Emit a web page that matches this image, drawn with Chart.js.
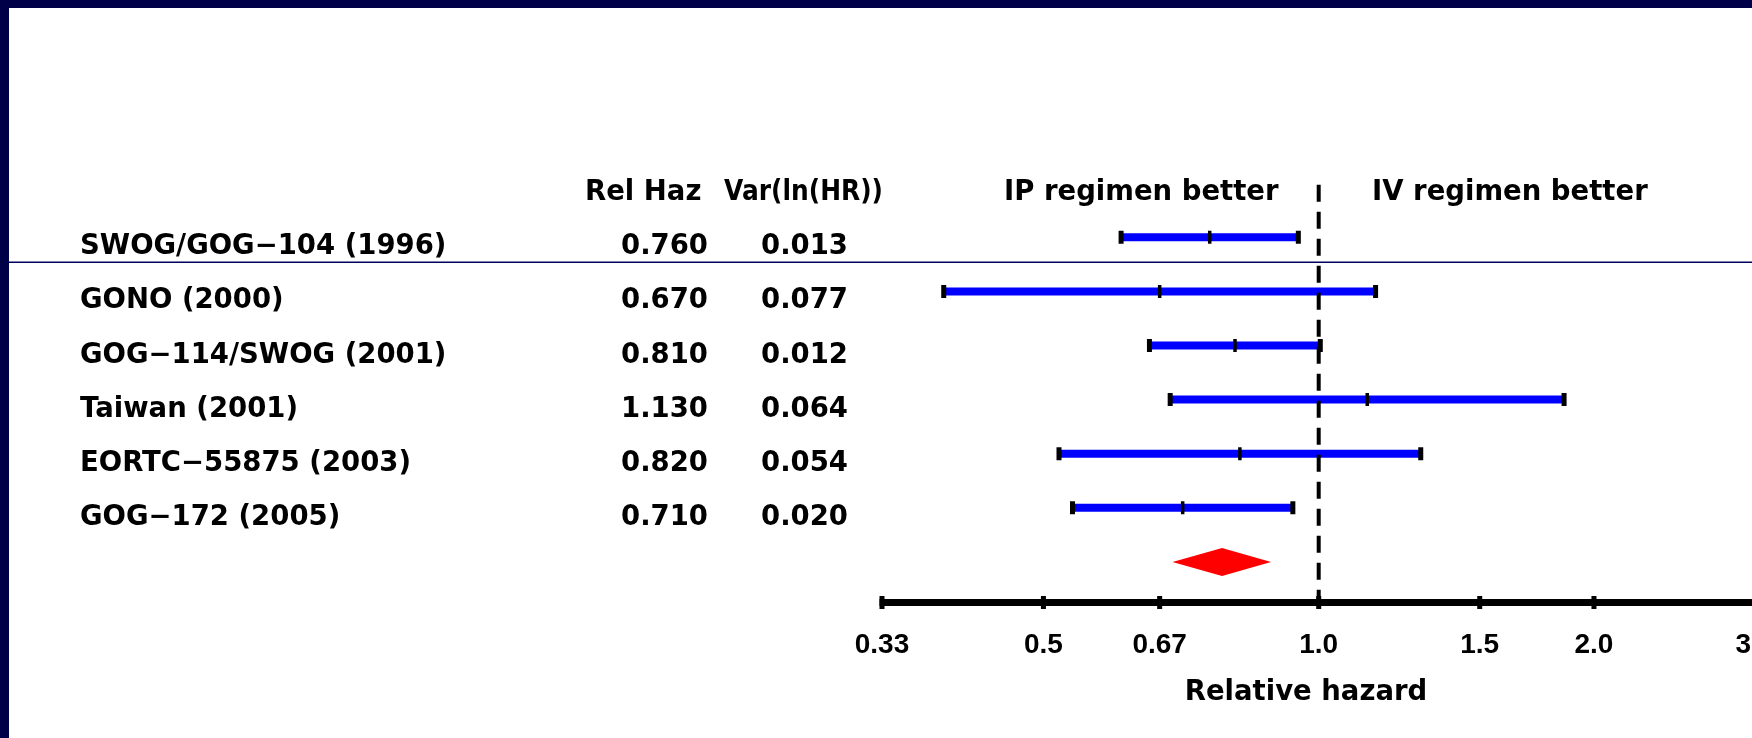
<!DOCTYPE html>
<html><head><meta charset="utf-8">
<script src="https://cdn.jsdelivr.net/npm/chart.js@4.4.1/dist/chart.umd.min.js"></script>
<style>
html,body{margin:0;padding:0;background:#fff;overflow:hidden;width:1752px;height:738px;}
#wrap{position:absolute;left:0;top:0;width:1800px;height:738px;}
canvas{display:block;}
</style></head><body>
<div id="wrap"><canvas id="c" width="1800" height="738"></canvas></div>
<script>
// ---------- data ----------
const studies = ['SWOG/GOG\u2212104 (1996)','GONO (2000)','GOG\u2212114/SWOG (2001)','Taiwan (2001)','EORTC\u221255875 (2003)','GOG\u2212172 (2005)'];
const relHaz  = [0.760, 0.670, 0.810, 1.130, 0.820, 0.710];
const varLnHR = [0.013, 0.077, 0.012, 0.064, 0.054, 0.020];
const ciLower = [0.608, 0.389, 0.653, 0.688, 0.520, 0.538];
const ciUpper = [0.950, 1.154, 1.004, 1.855, 1.293, 0.937];
const pooledHR    = [0.784];
const pooledLower = [0.692];
const pooledUpper = [0.887];
const tickValues = [0.333, 0.5, 0.67, 1.0, 1.5, 2.0, 3.0];
const tickLabels = ['0.33', '0.5', '0.67', '1.0', '1.5', '2.0', '3.0'];
const colHeaders = ['Rel Haz', 'Var(ln(HR))'];
const sideHeaders = ['IP regimen better', 'IV regimen better'];
const axisTitle = 'Relative hazard';

// ---------- layout constants (styles / positions, not data) ----------
const Y_MAX = 7.75;           // y-scale bottom = axis line
const POOLED_ROW = 7;
const AREA = { left: 882, right: 1755, top: 183.2, bottom: 602.5 };
const TXT_FONT = 'bold 27.5px "DejaVu Sans"';
const TICK_FONT = {family: 'Liberation Sans', size: 28, weight: 'bold'};
const BLUE = '#0000ff';

const rowOf = i => i + 1;

const ciLineSets = studies.map((s, i) => ({
  type: 'scatter', showLine: true, order: 2,
  data: [{x: ciLower[i], y: rowOf(i)}, {x: ciUpper[i], y: rowOf(i)}],
  borderColor: BLUE, borderWidth: 8, pointRadius: 0, borderCapStyle: 'butt'
}));

const capSet = {
  type: 'scatter', order: 0,
  data: studies.flatMap((s, i) => [{x: ciLower[i], y: rowOf(i)}, {x: ciUpper[i], y: rowOf(i)}]),
  pointStyle: 'line', rotation: 90, radius: 6.5, borderWidth: 5,
  borderColor: '#000', backgroundColor: '#000'
};
const midSet = {
  type: 'scatter', order: 0,
  data: studies.map((s, i) => ({x: relHaz[i], y: rowOf(i)})),
  pointStyle: 'line', rotation: 90, radius: 6.5, borderWidth: 3.5,
  borderColor: '#000', backgroundColor: '#000'
};
const refLine = {
  type: 'scatter', showLine: true, order: 1,
  data: [{x: 1.0, y: 0.03}, {x: 1.0, y: Y_MAX}],
  borderColor: '#000', borderWidth: 4, borderDash: [17, 10], pointRadius: 0, borderCapStyle: 'butt'
};

function fitText(ctx, txt, x, y, w) {
  const m = ctx.measureText(txt).width;
  ctx.save(); ctx.translate(x, y); ctx.scale(Math.min(1, w / m), 1); ctx.fillText(txt, 0, 0); ctx.restore();
}

const decor = {
  id: 'decor',
  beforeDraw(chart) {
    const ctx = chart.ctx, xs = chart.scales.x, ys = chart.scales.y;
    ctx.save();
    ctx.fillStyle = '#fff'; ctx.fillRect(0, 0, chart.width, chart.height);
    ctx.fillStyle = '#000048';
    ctx.fillRect(0, 0, chart.width, 8);
    ctx.fillRect(0, 0, 9, chart.height);
    // separator line
    const sy = ys.getPixelForValue(1.462);
    ctx.strokeStyle = '#00005a'; ctx.lineWidth = 1.5;
    ctx.beginPath(); ctx.moveTo(9, sy); ctx.lineTo(chart.width, sy); ctx.stroke();
    // axis line + ticks
    const ay = ys.getPixelForValue(Y_MAX);
    ctx.strokeStyle = '#000'; ctx.lineWidth = 7;
    ctx.beginPath(); ctx.moveTo(xs.getPixelForValue(tickValues[0]) - 2.5, ay); ctx.lineTo(chart.width, ay); ctx.stroke();
    ctx.fillStyle = '#000';
    tickValues.forEach(v => { const px = xs.getPixelForValue(v); ctx.fillRect(px - 2.5, ay - 6.5, 5, 13); });
    ctx.restore();
  },
  afterDatasetsDraw(chart) {
    const ctx = chart.ctx, xs = chart.scales.x, ys = chart.scales.y;
    ctx.save();
    // pooled diamond
    const cy = ys.getPixelForValue(POOLED_ROW);
    ctx.fillStyle = '#ff0000';
    ctx.beginPath();
    ctx.moveTo(xs.getPixelForValue(pooledLower[0]), cy);
    ctx.lineTo(xs.getPixelForValue(pooledHR[0]), cy - 14);
    ctx.lineTo(xs.getPixelForValue(pooledUpper[0]), cy);
    ctx.lineTo(xs.getPixelForValue(pooledHR[0]), cy + 14);
    ctx.closePath(); ctx.fill();
    // texts
    ctx.fillStyle = '#000';
    ctx.font = TXT_FONT;
    ctx.textBaseline = 'alphabetic';
    ctx.textAlign = 'left';
    const hy = ys.getPixelForValue(0.13) + 10;
    ctx.fillText(colHeaders[0], 585, hy);
    fitText(ctx, colHeaders[1], 724, hy, 159);
    ctx.fillText(sideHeaders[0], 1004, hy);
    ctx.fillText(sideHeaders[1], 1372, hy);
    studies.forEach((s, i) => {
      const by = ys.getPixelForValue(rowOf(i)) + 17;
      ctx.fillText(s, 80, by);
      ctx.fillText(relHaz[i].toFixed(3), 621, by);
      ctx.fillText(varLnHR[i].toFixed(3), 761, by);
    });
    // axis title
    ctx.textAlign = 'center';
    ctx.fillText(axisTitle, 1306, 700);
    ctx.restore();
  }
};

const chart = new Chart(document.getElementById('c'), {
  type: 'scatter',
  data: { datasets: [capSet, midSet, refLine, ...ciLineSets] },
  plugins: [decor],
  options: {
    responsive: false, animation: false, events: [],
    layout: { padding: { left: AREA.left, right: 1800 - AREA.right, top: AREA.top, bottom: 0 } },
    plugins: { legend: { display: false }, tooltip: { enabled: false } },
    scales: {
      x: {
        type: 'logarithmic', bounds: 'data',
        min: tickValues[0], max: tickValues[tickValues.length - 1],
        afterBuildTicks: s => { s.ticks = tickValues.map(v => ({ value: v })); },
        afterFit: s => { s.height = 738 - AREA.bottom; s.paddingLeft = 0; s.paddingRight = 0; },
        grid: { display: false, drawTicks: false },
        border: { display: false },
        ticks: {
          autoSkip: false, maxRotation: 0, minRotation: 0, padding: 26, color: '#000',
          font: TICK_FONT,
          callback: (v, i) => tickLabels[i]
        },
        title: { display: false }
      },
      y: {
        type: 'linear', bounds: 'data', min: 0, max: Y_MAX, reverse: true, display: false
      }
    }
  }
});
// correct any extra layout offsets so the plot area lands where intended
(function () {
  const ca = chart.chartArea, p = chart.options.layout.padding;
  let changed = false;
  const dl = ca.left - AREA.left, dr = ca.right - AREA.right, dt = ca.top - AREA.top;
  if (Math.abs(dl) > 0.3) { p.left -= dl; changed = true; }
  if (Math.abs(dr) > 0.3) { p.right += dr; changed = true; }
  if (Math.abs(dt) > 0.3) { p.top -= dt; changed = true; }
  if (changed) chart.update();
})();
</script>
</body></html>
